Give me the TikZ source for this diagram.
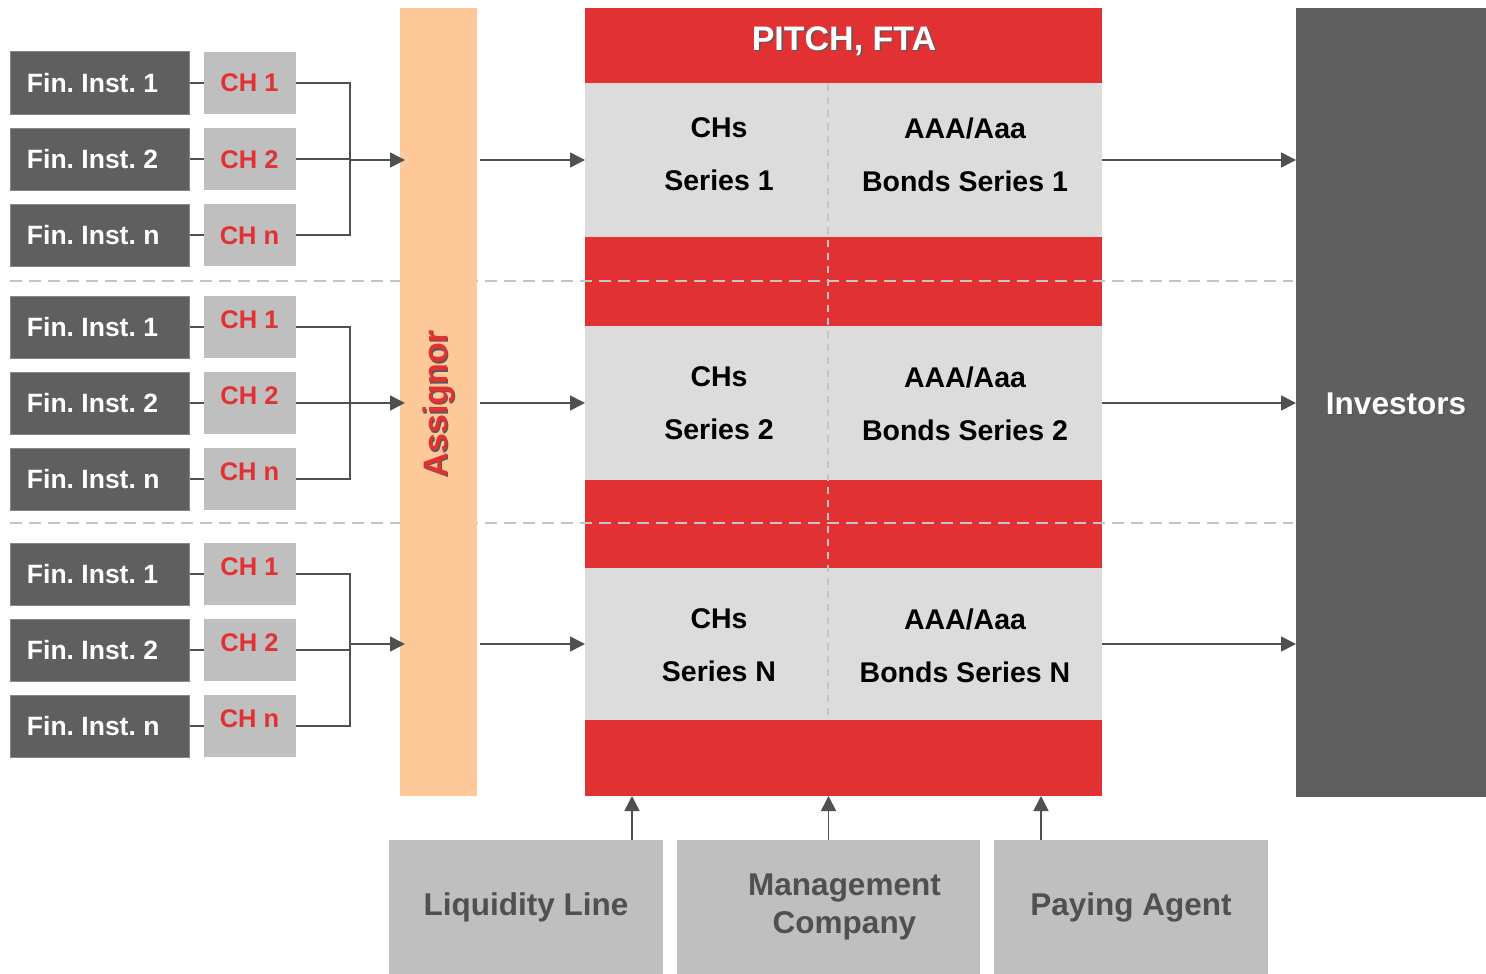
\documentclass[tikz,border=0pt]{standalone}
\usepackage{fontspec}
\setmainfont{Liberation Sans}
\usetikzlibrary{positioning,arrows.meta}

\definecolor{pitchred}{HTML}{E23132}
\definecolor{bandgray}{HTML}{DCDCDC}
\definecolor{findark}{HTML}{5F5F5F}
\definecolor{peach}{HTML}{FDC998}
\definecolor{boxgray}{HTML}{BFBFBF}
\definecolor{inkgray}{HTML}{505050}
\definecolor{sepgray}{HTML}{C4C4C4}

\begin{document}
\begin{tikzpicture}[x=1pt,y=-1pt,
  every node/.style={outer sep=0pt, inner sep=0pt},
  finbox/.style={fill=findark, draw=findark!75!white, line width=1pt,
    text width=146pt, inner xsep=16.5pt, align=flush left,
    minimum height=62pt, text=white,
    font=\fontsize{26.5}{30}\selectfont\bfseries\frenchspacing},
  chbox/.style={fill=boxgray, minimum width=92pt, minimum height=62pt,
    text height=18pt, text=pitchred, font=\fontsize{25.5}{30}\selectfont\bfseries},
  redband/.style={fill=pitchred, minimum width=517pt},
  grayband/.style={fill=bandgray, minimum width=517pt, minimum height=154pt},
  series/.style={align=center, font=\fontsize{28.5}{53}\selectfont\bfseries},
  party/.style={fill=boxgray, minimum height=134pt, anchor=north west,
    text=inkgray, align=center, font=\fontsize{31.5}{38}\selectfont\bfseries},
  link/.style={draw=inkgray, line width=1.6pt},
  flow/.style={link, -{Triangle[length=15pt,width=15pt]}},
  sep/.style={draw=sepgray, line width=2.5pt, dash pattern=on 12pt off 7pt},
  shadowtext/.style={text=black!65}
]
\useasboundingbox (0,0) rectangle (1486,974);

% the vehicle: title, three series, foot
\node[redband, minimum height=75pt, anchor=north west] (head) at (585,8) {};
\node[grayband, below=0pt of head] (s1) {};
\node[redband, minimum height=89pt, below=0pt of s1] (r1) {};
\node[grayband, below=0pt of r1] (s2) {};
\node[redband, minimum height=88pt, below=0pt of s2] (r2) {};
\node[grayband, minimum height=152pt, below=0pt of r2] (s3) {};
\node[redband, minimum height=76pt, below=0pt of s3] (foot) {};

\node[shadowtext, font=\fontsize{34}{40}\selectfont\bfseries] (head-sh) at (845.5,42.5) {PITCH, FTA};
\node[text=white, font=\fontsize{34}{40}\selectfont\bfseries] (head-txt) at (844,41) {PITCH, FTA};

% dividers
\draw[sep] (10,281) -- (1293,281);
\draw[sep] (10,523) -- (1293,523);
\draw[draw=sepgray, line width=1.8pt, dash pattern=on 7pt off 6pt] (828,84) -- (828,720);

\node[series] (chs1) at (719,154.5) {CHs\\Series 1};
\node[series] (aaa1) at (965,154.5) {AAA/Aaa\\Bonds Series 1};
\node[series] (chs2) at (719,403.5) {CHs\\Series 2};
\node[series] (aaa2) at (965,403.5) {AAA/Aaa\\Bonds Series 2};
\node[series] (chs3) at (719,645.5) {CHs\\Series N};
\node[series] (aaa3) at (965,645.5) {AAA/Aaa\\Bonds Series N};

% assignor column
\node[fill=peach, minimum width=77pt, minimum height=788pt, anchor=north west] (assignor) at (400,8) {};
\node[rotate=90, shadowtext, font=\fontsize{34}{40}\selectfont\bfseries] (assignor-sh) at (440,405) {Assignor};
\node[rotate=90, text=pitchred, font=\fontsize{34}{40}\selectfont\bfseries] (assignor-txt) at (438.5,403.5) {Assignor};

% investors
\node[fill=findark, minimum width=190pt, minimum height=789pt, anchor=north west] (inv) at (1296,8) {};
\node[shadowtext, font=\fontsize{31.5}{38}\selectfont\bfseries] (inv-sh) at (1397.5,405.5) {Investors};
\node[text=white, font=\fontsize{31.5}{38}\selectfont\bfseries] (inv-txt) at (1396,404) {Investors};

% originators and their CHs, one group per series
\foreach \g/\top/\sr/\lift in {1/52/s1/0pt, 2/296/s2/16pt, 3/543/s3/16pt} {
  \foreach \r/\lab in {1/1, 2/2, 3/n} {
    \node[finbox] (fin\g\r) at (100,\top+31+76*\r-76) {Fin. Inst. \lab};
    \node[chbox, text depth=\lift, right=14pt of fin\g\r] (ch\g\r) {CH \lab};
    \draw[link] (fin\g\r) -- (ch\g\r);
  }
  \coordinate (bus\g) at (350,0 |- \sr.center);
  \draw[link] (ch\g1.east) -| (bus\g) |- (ch\g3.east);
  \draw[link] (ch\g2.east) -- (ch\g2.east -| bus\g);
  \draw[flow, shorten >=-5pt] (bus\g) -- (assignor.west |- bus\g);
  \draw[flow] (assignor.east |- \sr.west) ++(3,0) -- (\sr.west);
  \draw[flow] (\sr.east) -- (inv.west |- \sr.east);
}

% service providers
\node[party, minimum width=274pt] (liq) at (389,840) {Liquidity Line};
\node[party, minimum width=303pt] (mgmt) at (677,840) {\hspace*{32pt}Management\\\hspace*{32pt}Company};
\node[party, minimum width=274pt] (pay) at (994,840) {Paying Agent};

\draw[flow] ([xshift=106pt]liq.north) -- ([xshift=106pt]liq.north |- foot.south);
\draw[flow] (mgmt.north) -- (mgmt.north |- foot.south);
\draw[flow] ([xshift=-90pt]pay.north) -- ([xshift=-90pt]pay.north |- foot.south);
\end{tikzpicture}
\end{document}
